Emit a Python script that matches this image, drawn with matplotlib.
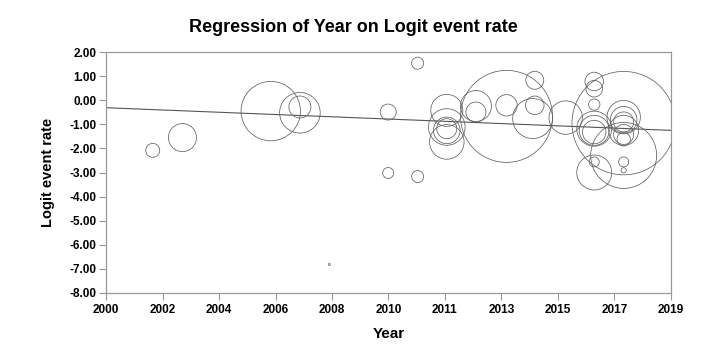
import numpy as np
import matplotlib
matplotlib.use("Agg")
import matplotlib.pyplot as plt

plt.rcParams['font.family'] = ['Liberation Sans', 'DejaVu Sans']
plt.rcParams['axes.unicode_minus'] = False

# Study data (year, logit event rate, relative weight)
year = [2001.57, 2002.57, 2005.54, 2006.52, 2006.52, 2007.51, 2009.49, 2009.49,
        2010.48, 2010.48, 2011.46, 2011.46, 2011.46, 2011.46, 2011.46, 2012.44,
        2012.44, 2013.47, 2013.47, 2014.42, 2014.42, 2014.35, 2015.46, 2016.42,
        2016.42, 2016.42, 2016.42, 2016.42, 2016.42, 2016.42, 2016.42, 2017.41,
        2017.41, 2017.41, 2017.41, 2017.41, 2017.41, 2017.41, 2017.41, 2017.41,
        2017.41]
logit = [-2.08, -1.55, -0.45, -0.52, -0.28, -6.82, -0.49, -3.02,
         1.54, -3.17, -0.42, -1.11, -1.25, -1.18, -1.73, -0.24,
         -0.49, -0.67, -0.21, 0.83, -0.21, -0.76, -0.72, 0.78,
         0.48, -0.18, -1.18, -1.25, -1.32, -2.56, -3.00, -0.95,
         -2.29, -0.70, -0.81, -0.90, -1.25, -1.42, -1.62, -2.56,
         -2.91]
weight = [4.9, 19.6, 88.2, 41.2, 12.1, 0.1, 6.4, 3.0,
          3.6, 3.6, 25.6, 33.5, 17.7, 10.0, 29.9, 24.0,
          10.0, 211.6, 11.4, 8.1, 8.6, 40.0, 27.9, 8.6,
          6.9, 3.2, 30.6, 22.5, 13.7, 2.5, 30.6, 267.3,
          108.9, 27.9, 17.7, 10.0, 22.5, 10.0, 4.5, 2.5,
          0.7]

# Meta-regression line
intercept_2000 = -0.31
slope = -0.0495

x_ticks = np.linspace(2000, 2019, 11)
x_tick_labels = ['2000', '2002', '2004', '2006', '2008', '2010', '2011',
                 '2013', '2015', '2017', '2019']
y_ticks = np.arange(-8, 2.5, 1.0)

fig = plt.figure(figsize=(7.07, 3.45), dpi=100)
ax = fig.add_axes([0.150, 0.151, 0.799, 0.698])

# bubble area proportional to weight
sizes = np.array(weight) * 10 * 2.0736
ax.scatter(year, logit, s=sizes, facecolors='none', edgecolors='#606060',
           linewidths=0.55, zorder=3)

xl = np.array([2000, 2019])
ax.plot(xl, intercept_2000 + slope * (xl - 2000), color='#555555', lw=0.8, zorder=2)

ax.set_xlim(2000, 2019)
ax.set_ylim(-8, 2)
ax.set_xticks(x_ticks)
ax.set_xticklabels(x_tick_labels)
ax.set_yticks(y_ticks)
ax.set_yticklabels(['%.2f' % v for v in y_ticks])

for s in ax.spines.values():
    s.set_color('#999999')
    s.set_linewidth(0.9)
ax.tick_params(colors='#999999', labelcolor='black', length=5, width=0.8, direction='out')
ax.tick_params(axis='y', pad=2)
ax.tick_params(axis='x', pad=3)
for lab in ax.get_xticklabels() + ax.get_yticklabels():
    lab.set_fontsize(8.5)
    lab.set_fontweight('bold')

ax.set_xlabel('Year', fontsize=11, fontweight='bold', labelpad=8)
ax.set_ylabel('Logit event rate', fontsize=10.5, fontweight='bold', labelpad=10)
fig.text(0.5, 0.92, 'Regression of Year on Logit event rate', ha='center', va='center',
         fontsize=13, fontweight='bold')

fig.savefig('out.png', dpi=100)
